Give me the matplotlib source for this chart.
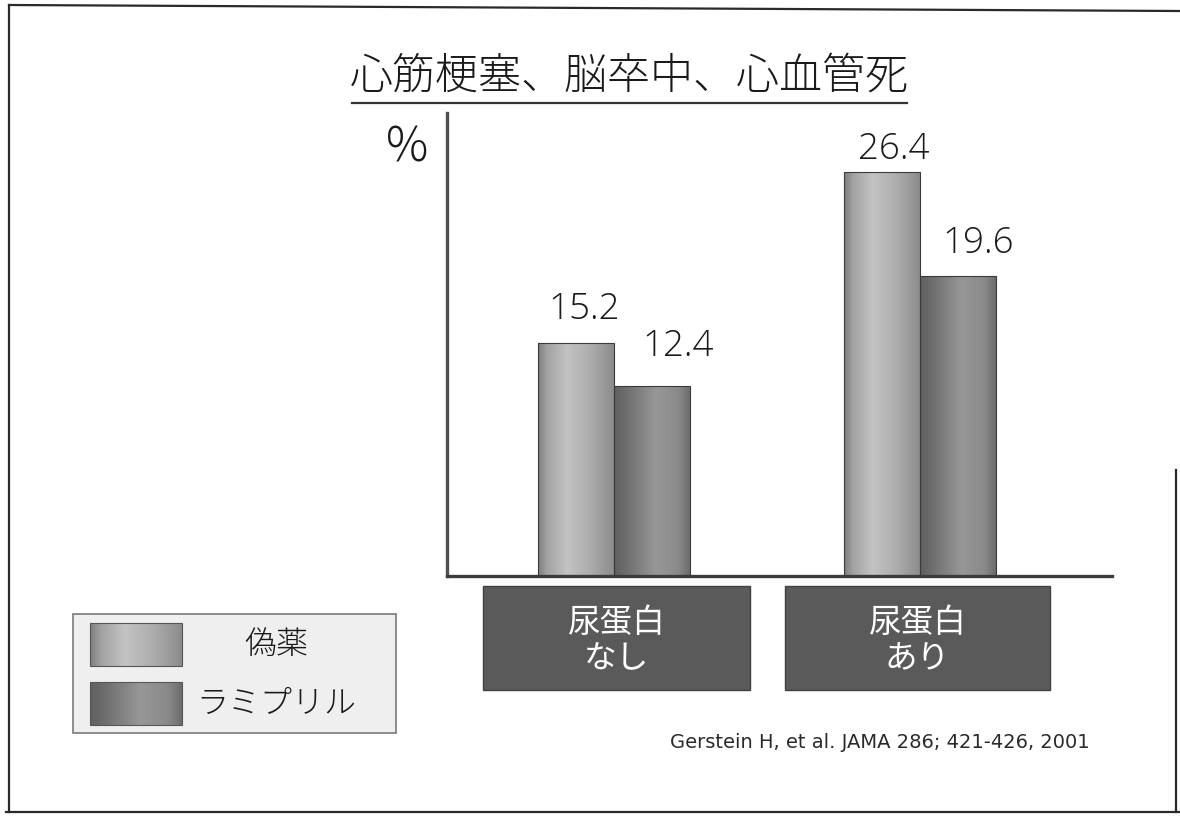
import matplotlib
matplotlib.use("Agg")
import matplotlib.pyplot as plt
import numpy as np
from matplotlib.colors import LinearSegmentedColormap
from matplotlib.patches import Rectangle
from matplotlib.lines import Line2D

plt.rcParams['font.family'] = ['Noto Sans CJK JP', 'DejaVu Sans']

# ---- data ----
title = "心筋梗塞、脳卒中、心血管死"
groups = ["尿蛋白\nなし", "尿蛋白\nあり"]
series_names = ["偽薬", "ラミプリル"]
placebo = [15.2, 26.4]
ramipril = [12.4, 19.6]
unit_label = "%"
citation = "Gerstein H, et al. JAMA 286; 421-426, 2001"

W, H = 1180, 818
fig = plt.figure(figsize=(W / 100, H / 100), dpi=100)
fig.patch.set_facecolor("white")


def fx(x):
    return x / W


def fy(y):
    return 1 - y / H


# shading for the two series (cylinder-like horizontal gradients)
cmap_placebo = LinearSegmentedColormap.from_list(
    "placebo", [(0.0, "#7e7e7e"), (0.12, "#a2a2a2"), (0.38, "#c3c3c3"),
                (0.7, "#acacac"), (1.0, "#8c8c8c")])
cmap_ramipril = LinearSegmentedColormap.from_list(
    "ramipril", [(0.0, "#5f5f5f"), (0.2, "#727272"), (0.55, "#979797"),
                 (0.85, "#8a8a8a"), (1.0, "#6c6c6c")])
grad = np.linspace(0, 1, 256).reshape(1, -1)

# ---- main bar axes ----
ax_left, ax_right, ax_top, ax_bottom = 447, 1112, 113, 576
ax = fig.add_axes([fx(ax_left), fy(ax_bottom), fx(ax_right - ax_left),
                   (ax_bottom - ax_top) / H])
ax.set_facecolor("none")

group_px = 306.0
x_min = -167 / group_px
x_max = (ax_right - ax_left - 167) / group_px
ymax = (ax_bottom - ax_top) / 15.3
bw = 76 / group_px
xs = np.arange(len(groups))

b1 = ax.bar(xs - bw / 2, placebo, width=bw, color="none",
            edgecolor="#3a3a3a", linewidth=0.8, zorder=3)
b2 = ax.bar(xs + bw / 2, ramipril, width=bw, color="none",
            edgecolor="#3a3a3a", linewidth=0.8, zorder=3)

for bars, cm in ((b1, cmap_placebo), (b2, cmap_ramipril)):
    for p in bars:
        x0, y0 = p.get_x(), p.get_y()
        im = ax.imshow(grad, cmap=cm, aspect="auto", interpolation="bicubic",
                       extent=[x0, x0 + p.get_width(), y0, y0 + p.get_height()],
                       zorder=2)
        im.set_clip_path(p)

ax.set_xlim(x_min, x_max)
ax.set_ylim(0, ymax)

# value labels above bars
label_dx = [[8, 12], [26, 20]]
label_dy = [[15, 4], [21, 14]]
for si, bars in enumerate((b1, b2)):
    for gi, p in enumerate(bars):
        v = p.get_height()
        ax.annotate(f"{v:.1f}", (p.get_x() + p.get_width() / 2, v),
                    xytext=(label_dx[si][gi] * 0.72, label_dy[si][gi] * 0.72),
                    textcoords="offset points", ha="center", va="bottom",
                    fontsize=26.5, family="Open Sans", fontweight="light",
                    color="#1a1a1a")

for s in ("top", "right"):
    ax.spines[s].set_visible(False)
ax.spines["left"].set_color("#505050")
ax.spines["left"].set_linewidth(2.4)
ax.spines["bottom"].set_color("#3c3c3c")
ax.spines["bottom"].set_linewidth(2.4)
ax.set_xticks([])
ax.set_yticks([])

# ---- overlay in pixel coordinates for the rest of the slide ----
ov = fig.add_axes([0, 0, 1, 1])
ov.set_xlim(0, W)
ov.set_ylim(H, 0)
ov.axis("off")
ov.set_zorder(-1)
ov.patch.set_alpha(0)

# slide frame
frame_kw = dict(color="#2a2a2a", linewidth=1.6)
ov.add_line(Line2D([9, 9], [5, 812], **frame_kw))
ov.add_line(Line2D([9, 1180], [5, 11], **frame_kw))
ov.add_line(Line2D([6, 1180], [812, 812], **frame_kw))
ov.add_line(Line2D([1176, 1176], [470, 812], **frame_kw))

# title with underline
ov.text(629, 76, title, ha="center", va="center", fontsize=31,
        fontweight="light", color="#1a1a1a")
ov.add_line(Line2D([352, 907], [103, 103], color="#333333", linewidth=1.6))

# unit label
ov.text(407, 148, unit_label, ha="center", va="center", fontsize=34,
        fontweight="light", color="#1a1a1a")

# category boxes under the groups
box_spans = [(483, 750), (785, 1050)]
for (l, r), g in zip(box_spans, groups):
    ov.add_patch(Rectangle((l, 586), r - l, 104, facecolor="#5a5a5a",
                           edgecolor="#404040", linewidth=1.0))
    ov.text((l + r) / 2, 641, g, ha="center", va="center", fontsize=23.5,
            color="white", linespacing=1.15)

# legend
ov.add_patch(Rectangle((73, 614), 323, 119, facecolor="#efefef",
                       edgecolor="#7a7a7a", linewidth=1.2, zorder=1))
for (top, cm, name) in ((623, cmap_placebo, series_names[0]),
                        (682, cmap_ramipril, series_names[1])):
    sw = Rectangle((90, top), 92, 43, facecolor="none",
                   edgecolor="#555555", linewidth=0.8, zorder=4)
    ov.add_patch(sw)
    im = ov.imshow(grad, cmap=cm, aspect="auto", interpolation="bicubic",
                   extent=[90, 182, top + 43, top], zorder=3)
    im.set_clip_path(sw)
    ov.text(276, top + 22, name, ha="center", va="center", fontsize=23,
            fontweight="light", color="#1a1a1a", zorder=5)
ov.set_xlim(0, W)
ov.set_ylim(H, 0)

# reference
ov.text(1090, 743, citation, ha="right", va="center", fontsize=14,
        family="DejaVu Sans", color="#2a2a2a")

fig.savefig("out.png", dpi=100)
